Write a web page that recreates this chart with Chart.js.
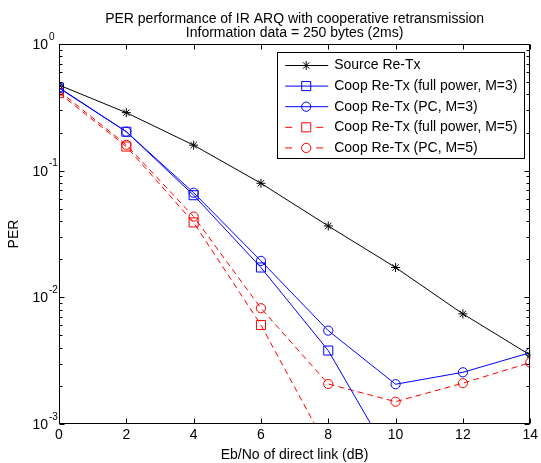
<!DOCTYPE html>
<html lang="en">
<head>
<meta charset="UTF-8">
<title>PER performance of IR ARQ with cooperative retransmission</title>
<script src="https://cdn.jsdelivr.net/npm/chart.js"></script>
<style>
  body { margin: 0; background: #fff; }
  #wrap { width: 541px; height: 463px; position: relative; }
</style>
</head>
<body>
<div id="wrap"><canvas id="perChart"></canvas></div>
<script>
// Eb/No of direct link (dB)
const ebno = [0, 2, 4, 6, 8, 10, 12, 14];

// PER (log scale)
const sourceRetx  = [0.474, 0.287, 0.159, 0.0795, 0.0366, 0.0172, 0.0074, 0.0035];
const coopFullM3  = [0.453, 0.203, 0.064, 0.0172, 0.0038, 0.00046];
const coopPcM3    = [0.449, 0.203, 0.067, 0.0194, 0.00546, 0.00206, 0.00256, 0.00366];
const coopFullM5  = [0.41, 0.155, 0.039, 0.00605, 0.00063];
const coopPcM5    = [0.426, 0.160, 0.0434, 0.0082, 0.00207, 0.0015, 0.0021, 0.00305];

const yDecades  = [0.001, 0.01, 0.1, 1];
const yExponent = ['-3', '-2', '-1', '0'];

const seriesNames = [
    'Source Re-Tx',
    'Coop Re-Tx (full power, M=3)',
    'Coop Re-Tx (PC, M=3)',
    'Coop Re-Tx (full power, M=5)',
    'Coop Re-Tx (PC, M=5)'
];

const FONT = '"Liberation Sans", Arial, Helvetica, sans-serif';

function pts(values) {
    return values.map((v, i) => ({ x: ebno[i], y: v }));
}

function series(label, values, color, style, radius, dash) {
    return {
        label: label,
        data: pts(values),
        borderColor: color,
        borderWidth: 1,
        borderDash: dash || [],
        pointStyle: style,
        pointRadius: radius,
        pointHoverRadius: radius,
        pointBorderColor: color,
        pointBackgroundColor: 'rgba(0,0,0,0)',
        pointBorderWidth: 1,
        tension: 0,
        fill: false
    };
}

// frame, inward ticks, 10^n labels and the boxed legend
const matlabAxes = {
    id: 'matlabAxes',
    afterDraw(chart) {
        const { ctx, chartArea: a, scales: { x, y } } = chart;
        ctx.save();
        ctx.strokeStyle = '#000';
        ctx.lineWidth = 1;
        const L = Math.round(a.left) + 0.5, R = Math.round(a.right) - 0.5;
        const T = Math.round(a.top) + 0.5, B = Math.round(a.bottom) - 0.5;

        ctx.beginPath();
        x.ticks.forEach(t => {
            const px = Math.round(x.getPixelForValue(t.value)) + 0.5;
            ctx.moveTo(px, B); ctx.lineTo(px, B - 5);
            ctx.moveTo(px, T); ctx.lineTo(px, T + 5);
        });
        yDecades.forEach((d, i) => {
            const py = Math.round(y.getPixelForValue(d)) + 0.5;
            ctx.moveTo(L, py); ctx.lineTo(L + 5, py);
            ctx.moveTo(R, py); ctx.lineTo(R - 5, py);
            if (i < yDecades.length - 1) {
                for (let m = 2; m <= 9; m++) {
                    const my = Math.round(y.getPixelForValue(d * m)) + 0.5;
                    ctx.moveTo(L, my); ctx.lineTo(L + 3, my);
                    ctx.moveTo(R, my); ctx.lineTo(R - 3, my);
                }
            }
        });
        ctx.stroke();
        ctx.strokeRect(L, T, R - L, B - T);

        // y tick labels with superscript exponent
        ctx.fillStyle = '#000';
        ctx.textBaseline = 'middle';
        yDecades.forEach((d, i) => {
            const py = y.getPixelForValue(d);
            ctx.font = '14px ' + FONT;
            ctx.textAlign = 'right';
            ctx.fillText('10', a.left - 11, py + 1);
            ctx.font = '10px ' + FONT;
            ctx.textAlign = 'left';
            ctx.fillText(yExponent[i], a.left - 10, py - 7);
        });

        // legend
        const bx = a.right - 253, by = a.top + 8, bw = 247, bh = 106;
        ctx.fillStyle = '#fff';
        ctx.fillRect(bx, by, bw, bh);
        ctx.strokeRect(Math.round(bx) + 0.5, Math.round(by) + 0.5, bw, bh);
        chart.data.datasets.forEach((ds, i) => {
            const ry = by + 13.5 + i * 20.6;
            const x0 = bx + 8, x1 = bx + 51, mx = bx + 29;
            ctx.strokeStyle = ds.borderColor;
            ctx.lineWidth = 1;
            ctx.setLineDash(ds.borderDash.length ? [7, 24] : []);
            ctx.beginPath();
            ctx.moveTo(x0, ry); ctx.lineTo(x1, ry);
            ctx.stroke();
            ctx.setLineDash([]);
            ctx.fillStyle = 'rgba(0,0,0,0)';
            Chart.helpers.drawPoint(ctx, {
                pointStyle: ds.pointStyle, radius: ds.pointRadius, rotation: 0, borderWidth: 1
            }, mx, ry);
            ctx.fillStyle = '#000';
            ctx.font = '14px ' + FONT;
            ctx.textAlign = 'left';
            ctx.textBaseline = 'middle';
            ctx.fillText(ds.label, bx + 57, ry);
        });
        ctx.restore();
    }
};

const chart = new Chart(document.getElementById('perChart'), {
    type: 'line',
    data: {
        datasets: [
            series(seriesNames[0], sourceRetx, '#000000', 'star', 4.5),
            series(seriesNames[1], coopFullM3, '#0000ff', 'rect', 6.4),
            series(seriesNames[2], coopPcM3, '#0000ff', 'circle', 4.6),
            series(seriesNames[3], coopFullM5, '#ff0000', 'rect', 6.4, [6, 4]),
            series(seriesNames[4], coopPcM5, '#ff0000', 'circle', 4.6, [6, 4])
        ]
    },
    options: {
        responsive: true,
        maintainAspectRatio: false,
        animation: false,
        layout: { padding: { top: 0, right: 7, bottom: 0, left: 0 } },
        plugins: {
            legend: { display: false },
            tooltip: { enabled: false },
            title: {
                display: true,
                fullSize: false,
                text: ['PER performance of IR ARQ with cooperative retransmission',
                       'Information data = 250 bytes (2ms)'],
                color: '#000',
                font: { family: FONT, size: 14, weight: 'normal', lineHeight: '14px' },
                padding: { top: 12, bottom: 4 }
            }
        },
        scales: {
            x: {
                type: 'linear',
                min: 0,
                max: 14,
                ticks: {
                    stepSize: 2,
                    color: '#000',
                    padding: 3,
                    font: { family: FONT, size: 14 }
                },
                grid: { display: false, drawTicks: false },
                border: { display: false },
                title: {
                    display: true,
                    text: 'Eb/No of direct link (dB)',
                    color: '#000',
                    font: { family: FONT, size: 14, lineHeight: 1 },
                    padding: { top: 0, bottom: 1 }
                },
                afterFit(s) { s.height = 39; }
            },
            y: {
                type: 'logarithmic',
                min: 0.001,
                max: 1,
                ticks: { display: false },
                grid: { display: false, drawTicks: false },
                border: { display: false },
                title: {
                    display: true,
                    text: 'PER',
                    color: '#000',
                    font: { family: FONT, size: 14, lineHeight: 1 },
                    padding: { top: 7, bottom: 0 }
                },
                afterFit(s) { s.width = 59; }
            }
        }
    },
    plugins: [matlabAxes]
});
</script>
</body>
</html>
